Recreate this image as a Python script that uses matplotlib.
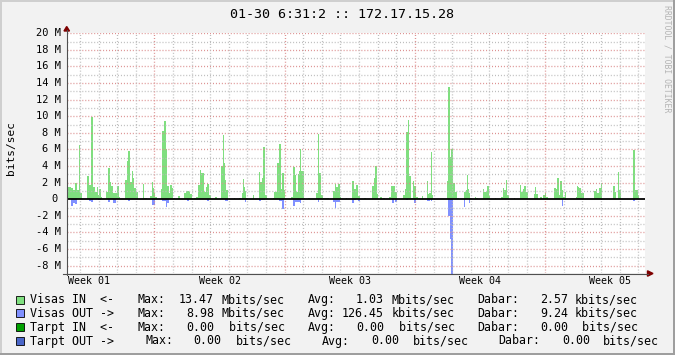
import matplotlib
matplotlib.use("Agg")
import matplotlib.pyplot as plt
from matplotlib.patches import Rectangle, Polygon
from matplotlib.lines import Line2D
import matplotlib.transforms as mtransforms

W, H = 675, 355
MONO = "DejaVu Sans Mono"

# hours since start of week 01 -> Mbit/s, drawn as step ("post") areas
in_hours = [57, 60.7, 63.2, 65.4, 68, 70.1, 71.4, 74,
            81.3, 83.5, 86, 88.6, 91.2, 93.4, 95.5, 96.8, 98.5, 100.2,
            105, 108, 110.1, 111.8, 114.4, 116.6, 119.2, 121.7, 123,
            129.9, 132.9, 134.2, 136.8, 138.5, 140.7, 142, 144.1, 146.7,
            153.6, 154.9, 158.3, 162.2, 164.8, 166.5, 167.8, 169.1, 171.6,
            175.9, 177.6, 180.3, 182.9, 184.2, 186.7, 188, 190.6, 191.9, 194,
            198.3, 200.9,
            206.1, 208.7, 212.5, 213.8, 216.4,
            219, 221.6, 224.1, 226.7, 228, 229.3, 231.9, 234.5, 235.8, 238.3, 240.9,
            246.1, 248.7,
            253.8, 256.4, 257.7, 259.4, 260.7, 263.3,
            270.6, 271.9, 277, 279.2,
            280.9, 282.6, 283.9, 285.2, 286.5, 288.7,
            295.1, 296.4,
            302.8, 304.1, 306.7, 308, 310.6, 313.1, 314.4,
            320.9, 322.2, 326, 328.6, 331.2, 332.5, 335.1, 336.4,
            344.1, 346.7, 349.3, 350.5, 353.1, 354.4, 355.7, 357.4, 360.4, 361.7,
            365.6, 368.6,
            375.9, 378.5, 379.8, 382.4, 385, 393.1,
            398.3, 400.4, 402.1, 404.7, 407.3, 409,
            414.6, 415.9,
            422.8, 425.4, 428, 430.5, 433.1,
            438.3, 440.9,
            448.7, 451.2, 452.5, 455.1, 456.4,
            459, 461.6, 462.9, 465.4,
            470.6, 473.2, 478.3, 480.9,
            488.7, 491.2, 492.5, 495.1, 496.4, 499, 501.6, 502.9, 505.4, 508, 510.6,
            513.2, 514.5,
            519.6, 520.9, 522.2, 524.8, 526.1, 527.8,
            545, 546.7, 549.3, 550.6, 553.2, 555.8, 558.3, 560.9,
            567.3, 569.9, 571.2, 572.5, 573.8, 575.1, 577.6,
            581.5, 582.8, 585.4,
            591.8, 593.1, 597, 599.6, 600.4,
            607.3, 608.6,
            615.1, 617.6, 618.9, 621.5, 622.8, 625.4,
            631.8, 633.1,
            639.6, 640.9, 643.4, 644.7, 647.3, 649.9,
            657.6, 658.9, 660.2, 662.8,
            665.4, 668,
            669.2, 671.8, 673.1, 675.7,
            683.5, 686.1, 687.4, 690, 691.2, 693.8, 695.1, 697.7, 699,
            711.9, 713.2, 714.5, 715.8, 718.3, 722.2,
            735.1, 737.7, 739, 741.6, 744.1, 745.4,
            759.6, 762.2, 763.5,
            766.1, 767.4, 769.9,
            785.4, 788, 791.9, 793.2]
in_mbits = [1.45, 1.35, 1.1, 2.0, 1.1, 6.5, 0.8, 0,
            2.8, 1.7, 9.96, 1.45, 0.9, 1.5, 0.5, 1.25, 0.25, 0,
            0.9, 3.8, 2.1, 1.65, 0.7, 0.75, 1.55, 0.25, 0,
            2.35, 4.65, 5.85, 2.05, 3.4, 2.55, 1.4, 0.9, 0,
            1.85, 0.15, 0, 0.4, 2.1, 1.35, 0.8, 0.25, 0,
            1.25, 8.2, 9.4, 6.0, 1.6, 0.8, 1.7, 1.4, 0.15, 0,
            0.4, 0,
            0.75, 1.05, 0.9, 0.65, 0,
            0.15, 0.25, 1.7, 3.55, 3.2, 3.2, 0.9, 1.5, 1.85, 0.5, 0,
            0.3, 0,
            4.05, 7.75, 4.35, 2.35, 1.15, 0,
            0.15, 0, 0.1, 0,
            0.7, 2.45, 1.5, 1.05, 0.2, 0,
            0.5, 0,
            3.3, 2.05, 2.55, 6.3, 0.5, 0.15, 0,
            0.15, 0.9, 4.35, 6.7, 1.25, 3.2, 1.1, 0,
            0.25, 3.9, 2.95, 0.9, 3.0, 3.4, 6.0, 3.4, 0.15, 0,
            0.15, 0,
            0.75, 7.85, 3.15, 0.5, 0.15, 0,
            1.0, 1.85, 1.45, 1.85, 0.25, 0,
            0.1, 0,
            2.2, 1.25, 1.75, 0.4, 0,
            0.15, 0,
            1.6, 2.55, 4.0, 0.65, 0,
            0.3, 0, 0.2, 0,
            0.3, 1.6, 0.9, 0,
            0.5, 1.2, 8.1, 9.55, 2.8, 0.15, 2.15, 1.6, 0.25, 0.15, 0,
            0.4, 0,
            2.2, 0.6, 0.7, 5.7, 0.5, 0,
            2.2, 13.47, 5.15, 6.0, 2.0, 0.9, 0.15, 0,
            0.9, 1.1, 2.9, 1.25, 0.75, 0.15, 0,
            0.3, 0.2, 0,
            1.25, 0.9, 1.6, 0.4, 0,
            0.15, 0,
            0.3, 1.35, 1.1, 2.35, 0.5, 0,
            0.15, 0,
            1.75, 0.9, 1.25, 1.6, 0.9, 0,
            0.65, 1.5, 0.65, 0,
            0.3, 0,
            0.5, 0.75, 0.3, 0,
            1.35, 1.2, 2.55, 0.5, 2.2, 1.1, 0.25, 0.9, 0,
            0.25, 1.6, 1.5, 1.35, 0.75, 0,
            1.0, 1.25, 0.75, 1.35, 2.0, 0,
            1.6, 0.9, 0,
            3.3, 1.1, 0,
            5.95, 1.1, 0.5, 0]

out_hours = [60.7, 63.2, 65.4, 68,
             83.5, 86, 88.6,
             95.5, 98.5,
             108, 110.1,
             114.4, 116.6, 118.3,
             134.2, 136,
             164.8, 168.2,
             177.7, 182.9, 184.2, 186.7,
             210, 212.5,
             235.8, 238.3,
             259, 262.8,
             284.8, 285.6,
             302.8, 305.4, 310.6,
             328.6, 332.5, 335.1,
             346.7, 349.3, 353.1, 355.7, 357.4,
             378.5, 379.8,
             398.3, 400.4, 402.1, 407.3,
             422.8, 425.4, 428, 430.5, 433.1,
             474.5, 477.1, 478.3, 480.9,
             492.5, 495.1,
             502.9, 505.4,
             519.6, 523.5, 524.8, 526.1,
             546.7, 549.3, 550.6, 553.2,
             567.3, 568.6, 573.8, 575.1,
             693.8, 695.1, 697.7, 699,
             744.1, 745.4,
             785.4, 788]
out_mbits = [0.75, 0.4, 0.55, 0,
             0.15, 0.3, 0,
             0.1, 0,
             0.3, 0,
             0.4, 0.5, 0,
             0.15, 0,
             0.7, 0,
             0.2, 0.95, 0.5, 0,
             0.15, 0,
             0.15, 0,
             0.15, 0,
             0.3, 0,
             0.25, 0.1, 0,
             0.15, 1.2, 0,
             0.75, 0.3, 0.35, 0.5, 0,
             0.3, 0,
             0.35, 1.1, 0.3, 0,
             0.4, 0.1, 0, 0.15, 0,
             0.4, 0, 0.3, 0,
             0.1, 0,
             0.45, 0,
             0.25, 0, 0.15, 0,
             1.97, 4.8, 8.98, 0,
             0.9, 0, 0.4, 0,
             0.8, 0, 0.1, 0,
             0.1, 0,
             0.15, 0]

ytick_vals = [20, 18, 16, 14, 12, 10, 8, 6, 4, 2, 0, -2, -4, -6, -8]
week_labels = ["Week 01", "Week 02", "Week 03", "Week 04", "Week 05"]
week_mid_hours = [84, 252, 420, 588, 756]

legend_names = ["Visas IN  <-", "Visas OUT ->", "Tarpt IN  <-", "Tarpt OUT ->"]
legend_colors = ["#7fdf7f", "#8090ff", "#00a000", "#4a66c8"]
legend_max = [("13.47", "Mbits/sec"), ("8.98", "Mbits/sec"), ("0.00", " bits/sec"), ("0.00", "bits/sec")]
legend_avg = [("1.03", "Mbits/sec"), ("126.45", "kbits/sec"), ("0.00", " bits/sec"), ("0.00", "bits/sec")]
legend_dabar = [("2.57", "kbits/sec"), ("9.24", "kbits/sec"), ("0.00", " bits/sec"), ("0.00", "bits/sec")]

IN_COLOR = legend_colors[0]
OUT_COLOR = legend_colors[1]


def fx(x):
    return x / W


def fy(y):
    return 1 - y / H


fig = plt.figure(figsize=(W / 100, H / 100), dpi=100, facecolor="#f2f2f2")
ax = fig.add_axes([fx(67), fy(273), (645 - 67) / W, (273 - 33.3) / H])
ax.set_facecolor("white")
for s in ax.spines.values():
    s.set_visible(False)
ax.set_xticks([])
ax.set_yticks([])
ax.set_xlim(55.1, 800.9)
ax.set_ylim(-8.88, 20)

ax.fill_between(in_hours, 0, in_mbits, step="post", color=IN_COLOR, lw=0, antialiased=False, zorder=1)
ax.fill_between(out_hours, 0, [-v for v in out_mbits], step="post", color=OUT_COLOR, lw=0, antialiased=False, zorder=1)

# grid: minor every 1M / day, major every 2M / week
dots = (0, (0.75, 1.5))
for v in range(-8, 21):
    if v == 0:
        continue
    c = "#dc8f8f" if v % 2 == 0 else "#bcbcbc"
    ax.axhline(v, color=c, lw=0.95, ls=dots, zorder=2)
for h in range(72, 801, 24):
    c = "#dc8f8f" if h % 168 == 0 else "#bcbcbc"
    ax.axvline(h, color=c, lw=0.95, ls=dots, zorder=2)
ax.axhline(0, color="black", lw=1.3, zorder=4)

# axes with arrows
fig.add_artist(Line2D([fx(66.5), fx(66.5)], [fy(275), fy(30)], color="#505050", lw=0.8))
fig.add_artist(Line2D([fx(63), fx(648)], [fy(273.5), fy(273.5)], color="#505050", lw=0.8))
fig.add_artist(Polygon([(fx(64), fy(31)), (fx(69.5), fy(31)), (fx(66.7), fy(26.5))],
                       closed=True, color="#7f0000", transform=fig.transFigure))
fig.add_artist(Polygon([(fx(647.5), fy(270.8)), (fx(647.5), fy(276.2)), (fx(653), fy(273.5))],
                       closed=True, color="#7f0000", transform=fig.transFigure))

ytrans = mtransforms.blended_transform_factory(fig.transFigure, ax.transData)
for v in ytick_vals:
    if v == 0:
        ax.text(fx(57.5), v, "0", transform=ytrans, ha="right", va="center", fontsize=7.5, family=MONO)
    else:
        ax.text(fx(60.5), v, "%d M" % v, transform=ytrans, ha="right", va="center", fontsize=7.5, family=MONO)

xtrans = mtransforms.blended_transform_factory(ax.transData, fig.transFigure)
for h, lab in zip(week_mid_hours, week_labels):
    ax.text(h, fy(281.5), lab, transform=xtrans, ha="center", va="center", fontsize=7.2, family=MONO)

fig.text(fx(341.5), fy(14), "01-30 6:31:2 :: 172.17.15.28", ha="center", va="center",
         fontsize=9.6, family=MONO)
fig.text(fx(11.5), fy(148), "bits/sec", rotation=90, ha="center", va="center", fontsize=8, family=MONO)
fig.text(fx(667), fy(5), "RRDTOOL / TOBI OETIKER", rotation=270, ha="center", va="top",
         fontsize=5.9, family=MONO, color="#b4b4b4")

# legend
row_y = [299.7, 313.3, 327.3, 341]
cols_std = [137.8, 214, 221.7, 307.8, 384, 391.7, 477, 568, 574.7]
cols_last = [145, 221.7, 235.5, 322, 399, 412.4, 498.5, 589.8, 602.7]
for i, name in enumerate(legend_names):
    y = row_y[i]
    cols = cols_last if i == 3 else cols_std
    fig.add_artist(Rectangle((fx(15.5), fy(y + 4)), 8 / W, 8 / H, facecolor=legend_colors[i],
                             edgecolor="black", lw=0.6, transform=fig.transFigure))
    fig.text(fx(30), fy(y), name, ha="left", va="center", fontsize=8.4, family=MONO)
    stats = [("Max:", legend_max[i]), ("Avg:", legend_avg[i]), ("Dabar:", legend_dabar[i])]
    for k, (lab, (val, unit)) in enumerate(stats):
        fig.text(fx(cols[3 * k]), fy(y), lab, ha="left", va="center", fontsize=8.4, family=MONO)
        fig.text(fx(cols[3 * k + 1]), fy(y), val, ha="right", va="center", fontsize=8.4, family=MONO)
        fig.text(fx(cols[3 * k + 2]), fy(y), unit, ha="left", va="center", fontsize=8.4, family=MONO)

# 3d-ish frame
fig.add_artist(Rectangle((0, fy(2)), 1, 2 / H, color="#cfcfcf", transform=fig.transFigure, lw=0))
fig.add_artist(Rectangle((0, 0), 2 / W, 1, color="#cfcfcf", transform=fig.transFigure, lw=0))
fig.add_artist(Rectangle((0, 0), 1, 2 / H, color="#9e9e9e", transform=fig.transFigure, lw=0))
fig.add_artist(Rectangle((fx(673), 0), 2 / W, 1, color="#9e9e9e", transform=fig.transFigure, lw=0))

fig.savefig("out.png", dpi=100, facecolor=fig.get_facecolor())
